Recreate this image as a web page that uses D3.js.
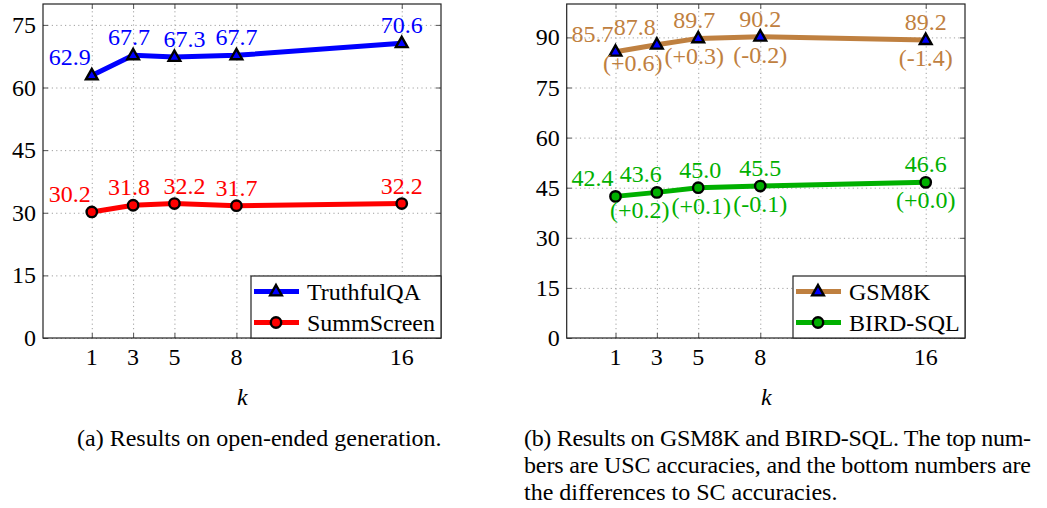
<!DOCTYPE html>
<html>
<head>
<meta charset="utf-8">
<script src="https://cdn.jsdelivr.net/npm/d3@7"></script>
<style>
  body { margin: 0; background: #fff; }
  svg text { font-family: "Liberation Serif", "Times New Roman", serif; }
</style>
</head>
<body>
<div id="chart"></div>
<script>
// data
var kValues = [1, 3, 5, 8, 16];
var truthfulQA = [62.9, 67.7, 67.3, 67.7, 70.6];
var summScreen = [30.2, 31.8, 32.2, 31.7, 32.2];
var gsm8k = [85.7, 87.8, 89.7, 90.2, 89.2];
var gsm8kDiff = [null, "(+0.6)", "(+0.3)", "(-0.2)", "(-1.4)"];
var birdSql = [42.4, 43.6, 45.0, 45.5, 46.6];
var birdDiff = [null, "(+0.2)", "(+0.1)", "(-0.1)", "(+0.0)"];
var yTicksA = [0, 15, 30, 45, 60, 75];
var yTicksB = [0, 15, 30, 45, 60, 75, 90];
var captionA = ["(a) Results on open-ended generation."];
var captionB = ["(b) Results on GSM8K and BIRD-SQL. The top num-",
                "bers are USC accuracies, and the bottom numbers are",
                "the differences to SC accuracies."];

var W = 1047, H = 508;
var svg = d3.select("#chart").append("svg").attr("width", W).attr("height", H);

// little pixel nudges for the value labels (as in the original figure)
var nudgeA = [-22, -4, 10, 0, 0];
var nudgeGsmTop = [-23, -22, -4, 0, 0];
var nudgeBirdTop = [-23, -16, 2, 0, 0];
var nudgeGsmBot = [0, -24, -4, 0, 0];
var nudgeBirdBot = [0, -17, 3, 0, 0];

var FS = 24;
var SERIF = "Liberation Serif";

function drawPanel(opt) {
  var g = svg.append("g");
  var x = d3.scaleLinear().domain([-1.36, 17.9]).range([opt.left, opt.right]);
  var y = d3.scaleLinear().domain(opt.yDomain).range([opt.bottom, opt.top]);
  var w = opt.right - opt.left, h = opt.bottom - opt.top;

  // grid
  var gx = g.append("g").attr("transform", "translate(0," + opt.bottom + ")")
    .call(d3.axisBottom(x).tickValues(kValues).tickSize(-h).tickFormat(""));
  var gy = g.append("g").attr("transform", "translate(" + opt.left + ",0)")
    .call(d3.axisLeft(y).tickValues(opt.yTicks).tickSize(-w).tickFormat(""));
  [gx, gy].forEach(function(a) {
    a.select(".domain").remove();
    a.selectAll("line").attr("stroke", "#a0a0a0").attr("stroke-width", 1)
      .attr("stroke-dasharray", "1.2,3.2");
  });

  // inward tick marks on all four sides
  var tk = 5;
  var tickAxes = [
    [d3.axisBottom(x).tickValues(kValues).tickSize(-tk), "translate(0," + opt.bottom + ")"],
    [d3.axisTop(x).tickValues(kValues).tickSize(-tk), "translate(0," + opt.top + ")"],
    [d3.axisLeft(y).tickValues(opt.yTicks).tickSize(-tk), "translate(" + opt.left + ",0)"],
    [d3.axisRight(y).tickValues(opt.yTicks).tickSize(-tk), "translate(" + opt.right + ",0)"]
  ];
  tickAxes.forEach(function(t) {
    var a = g.append("g").attr("transform", t[1]).call(t[0].tickFormat(""));
    a.select(".domain").remove();
    a.selectAll("line").attr("stroke", "#555").attr("stroke-width", 1);
  });

  // tick labels
  g.selectAll(".xl").data(kValues).enter().append("text")
    .attr("x", function(d) { return x(d); }).attr("y", opt.bottom + 27)
    .attr("text-anchor", "middle").attr("font-family", SERIF).attr("font-size", FS)
    .text(function(d) { return d; });
  g.selectAll(".yl").data(opt.yTicks).enter().append("text")
    .attr("x", opt.left - 7).attr("y", function(d) { return y(d) + 8; })
    .attr("text-anchor", "end").attr("font-family", SERIF).attr("font-size", FS)
    .text(function(d) { return d; });

  // frame
  g.append("rect").attr("x", opt.left).attr("y", opt.top).attr("width", w).attr("height", h)
    .attr("fill", "none").attr("stroke", "#222").attr("stroke-width", 1.2);

  // x label
  g.append("text").attr("x", x(8) + 6).attr("y", opt.bottom + 67)
    .attr("text-anchor", "middle").attr("font-family", SERIF).attr("font-size", FS)
    .attr("font-style", "italic").text("k");

  var line = d3.line().x(function(d) { return x(d[0]); }).y(function(d) { return y(d[1]); });

  opt.series.forEach(function(s) {
    var pts = kValues.map(function(k, i) { return [k, s.values[i]]; });
    g.append("path").datum(pts).attr("d", line)
      .attr("fill", "none").attr("stroke", s.color).attr("stroke-width", 5)
      .attr("stroke-linejoin", "round");
    pts.forEach(function(p) {
      drawMarker(g, s.marker, x(p[0]), y(p[1]), s.markFill);
    });
    // top labels
    g.selectAll(null).data(pts).enter().append("text")
      .attr("x", function(d, i) { return x(d[0]) + s.nudgeTop[i]; })
      .attr("y", function(d) { return y(d[1]) - 10; })
      .attr("text-anchor", "middle").attr("font-family", SERIF).attr("font-size", FS)
      .attr("fill", s.color)
      .text(function(d) { return d[1].toFixed(1); });
    // bottom labels (differences)
    if (s.diffs) {
      g.selectAll(null).data(pts).enter().filter(function(d, i) { return s.diffs[i]; })
        .append("text")
        .attr("x", function(d) { return x(d[0]) + s.nudgeBot[kValues.indexOf(d[0])]; })
        .attr("y", function(d) { return y(d[1]) + 26; })
        .attr("text-anchor", "middle").attr("font-family", SERIF).attr("font-size", FS)
        .attr("fill", s.color)
        .text(function(d) { return s.diffs[kValues.indexOf(d[0])]; });
    }
  });

  // legend
  var lg = opt.legend;
  g.append("rect").attr("x", lg.x0).attr("y", lg.y0)
    .attr("width", opt.right - lg.x0).attr("height", opt.bottom - lg.y0)
    .attr("fill", "#fff").attr("stroke", "#222").attr("stroke-width", 1.2);
  opt.series.forEach(function(s, i) {
    var cy = lg.y0 + 15.5 + i * 31;
    g.append("line").attr("x1", lg.x0 + 3).attr("x2", lg.x0 + 48).attr("y1", cy).attr("y2", cy)
      .attr("stroke", s.color).attr("stroke-width", 5);
    drawMarker(g, s.marker, lg.x0 + 25, cy, s.markFill);
    g.append("text").attr("x", lg.x0 + 56).attr("y", cy + 8)
      .attr("font-family", SERIF).attr("font-size", FS)
      .text(s.name);
  });
}

function drawMarker(g, type, cx, cy, fill) {
  if (type === "triangle") {
    var r = 6.5;
    g.append("path")
      .attr("d", "M" + cx + "," + (cy - r) + "L" + (cx + r * 0.9) + "," + (cy + r * 0.6) +
                 "L" + (cx - r * 0.9) + "," + (cy + r * 0.6) + "Z")
      .attr("fill", fill).attr("stroke", "#000").attr("stroke-width", 2.4)
      .attr("stroke-linejoin", "miter");
  } else {
    g.append("circle").attr("cx", cx).attr("cy", cy).attr("r", 5.2)
      .attr("fill", fill).attr("stroke", "#000").attr("stroke-width", 2.4);
  }
}

drawPanel({
  left: 43, right: 441, top: 4, bottom: 338,
  yDomain: [0, 80], yTicks: yTicksA,
  legend: { x0: 251, y0: 276 },
  series: [
    { name: "TruthfulQA", values: truthfulQA, color: "#0000ff", marker: "triangle", markFill: "#0000ff",
      nudgeTop: nudgeA },
    { name: "SummScreen", values: summScreen, color: "#ff0000", marker: "circle", markFill: "#ff0000",
      nudgeTop: nudgeA }
  ]
});

drawPanel({
  left: 566.7, right: 965, top: 4, bottom: 338,
  yDomain: [0, 100], yTicks: yTicksB,
  legend: { x0: 793, y0: 276 },
  series: [
    { name: "GSM8K", values: gsm8k, color: "#bf8040", marker: "triangle", markFill: "#0000ff",
      nudgeTop: nudgeGsmTop, diffs: gsm8kDiff, nudgeBot: nudgeGsmBot },
    { name: "BIRD-SQL", values: birdSql, color: "#00b000", marker: "circle", markFill: "#00b000",
      nudgeTop: nudgeBirdTop, diffs: birdDiff, nudgeBot: nudgeBirdBot }
  ]
});

// captions
svg.selectAll(".capA").data(captionA).enter().append("text")
  .attr("x", 77).attr("y", function(d, i) { return 446 + i * 27; })
  .attr("font-family", SERIF).attr("font-size", 24).text(function(d) { return d; });
svg.selectAll(".capB").data(captionB).enter().append("text")
  .attr("x", 524).attr("y", function(d, i) { return 446 + i * 27; })
  .attr("font-family", SERIF).attr("font-size", 24)
  .each(function(d, i) {
    if (i < captionB.length - 1) d3.select(this).attr("textLength", 507).attr("lengthAdjust", "spacing");
  })
  .text(function(d) { return d; });
</script>
</body>
</html>
